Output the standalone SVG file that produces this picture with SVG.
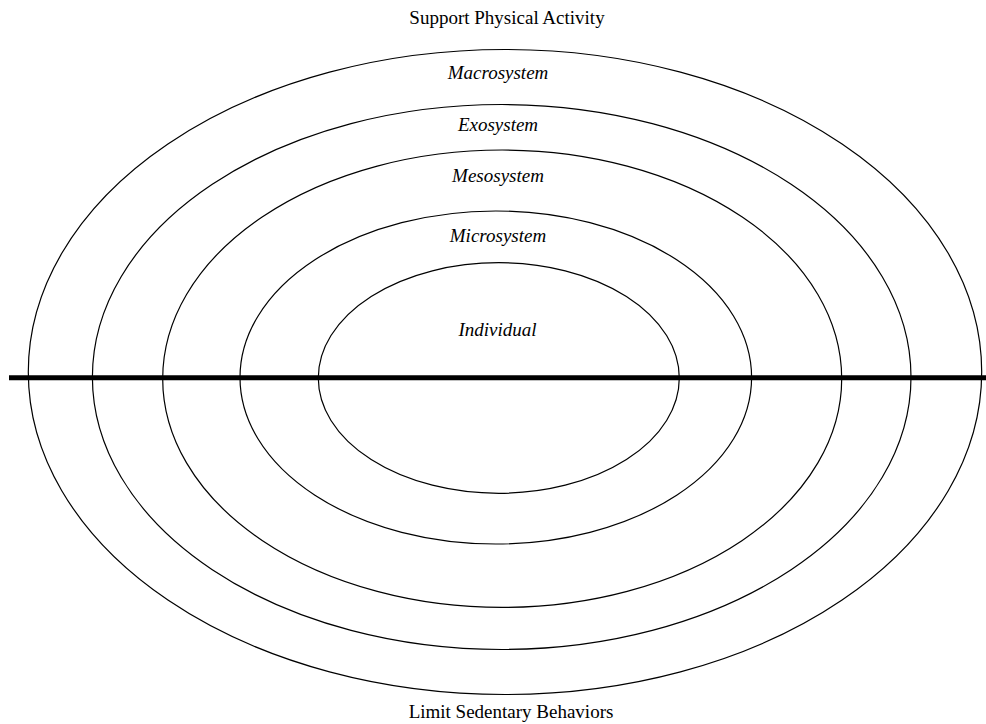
<svg xmlns="http://www.w3.org/2000/svg" width="986" height="724" viewBox="0 0 986 724">
<style>
.ring{fill:none;stroke:#000;stroke-width:1.2}
.lbl{font-family:"Liberation Serif","Times New Roman",serif;font-size:19px;fill:#000;text-anchor:middle}
.it{font-style:italic}
</style>
<rect width="986" height="724" fill="#fff"/>
<g id="macrosystem"><ellipse class="ring" cx="505" cy="372" rx="476.7" ry="322.5"/><text class="lbl it" x="498" y="78.5">Macrosystem</text></g>
<g id="exosystem"><ellipse class="ring" cx="501.7" cy="377" rx="409.3" ry="272.5"/><text class="lbl it" x="498" y="130.5">Exosystem</text></g>
<g id="mesosystem"><ellipse class="ring" cx="502.2" cy="378.7" rx="339.5" ry="228.7"/><text class="lbl it" x="498" y="182">Mesosystem</text></g>
<g id="microsystem"><ellipse class="ring" cx="495.8" cy="377.5" rx="255.8" ry="166.5"/><text class="lbl it" x="498" y="242">Microsystem</text></g>
<g id="individual"><ellipse class="ring" cx="498.8" cy="378" rx="180.5" ry="115.3"/><text class="lbl it" x="497.5" y="335.5">Individual</text></g>
<g id="connectors"><line x1="9" y1="377.7" x2="986" y2="377.7" stroke="#000" stroke-width="5"/></g>
<g id="support"><text class="lbl" x="507" y="23.5">Support Physical Activity</text></g>
<g id="limit"><text class="lbl" x="511" y="718">Limit Sedentary Behaviors</text></g>
</svg>
